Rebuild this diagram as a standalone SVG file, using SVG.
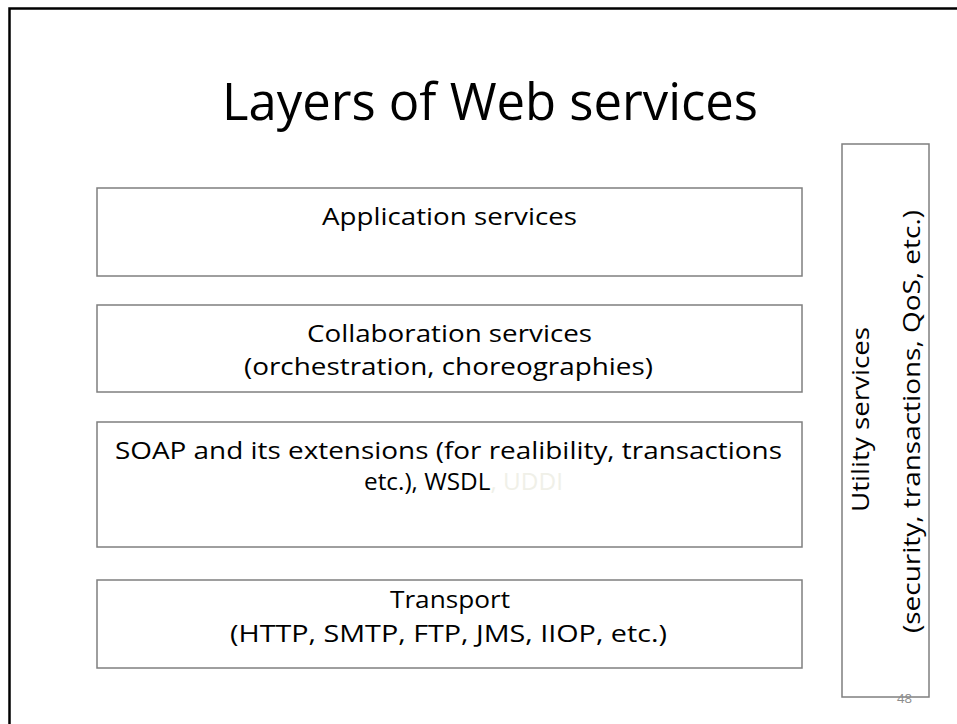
<svg xmlns="http://www.w3.org/2000/svg" width="957" height="724" viewBox="0 0 957 724">
<style>
.box{fill:#ffffff;stroke:#7f7f7f;stroke-width:1.5}
.t{font-family:"Open Sans","Liberation Sans",sans-serif;font-size:23.5px;fill:#000000}
.title{font-family:"Open Sans","Liberation Sans",sans-serif;font-size:51px;fill:#000000}
</style>
<rect x="0" y="0" width="957" height="724" fill="#ffffff"/>
<g id="frame">
<path d="M9.5,724 V8.5 H957" fill="none" stroke="#000000" stroke-width="2.5"/>
</g>
<g id="title">
<text class="title" x="222" y="120" textLength="536" lengthAdjust="spacingAndGlyphs">Layers of Web services</text>
</g>
<g id="connectors"></g>
<g id="application">
<rect class="box" x="97" y="188" width="705" height="88"/>
<text class="t" x="322" y="225" textLength="255" lengthAdjust="spacingAndGlyphs">Application services</text>
</g>
<g id="collaboration">
<rect class="box" x="97" y="305" width="705" height="87"/>
<text class="t" x="307" y="342" textLength="285" lengthAdjust="spacingAndGlyphs">Collaboration services</text>
<text class="t" x="244" y="375" textLength="409" lengthAdjust="spacingAndGlyphs">(orchestration, choreographies)</text>
</g>
<g id="soap">
<rect class="box" x="97" y="422" width="705" height="125"/>
<text class="t" x="115" y="459" textLength="667" lengthAdjust="spacingAndGlyphs">SOAP and its extensions (for realibility, transactions</text>
<text class="t" x="364" y="490" textLength="199" lengthAdjust="spacingAndGlyphs">etc.), WSDL<tspan style="fill:#f0f0e8">, UDDI</tspan></text>
</g>
<g id="transport">
<rect class="box" x="97" y="580" width="705" height="88"/>
<text class="t" x="390" y="608" textLength="120" lengthAdjust="spacingAndGlyphs">Transport</text>
<text class="t" x="230" y="642" textLength="437" lengthAdjust="spacingAndGlyphs">(HTTP, SMTP, FTP, JMS, IIOP, etc.)</text>
</g>
<g id="utility">
<rect class="box" x="842" y="144" width="87" height="553"/>
<text class="t" transform="translate(869,512) rotate(-90)" x="0" y="0" textLength="185" lengthAdjust="spacingAndGlyphs">Utility services</text>
<text class="t" transform="translate(920,633) rotate(-90)" x="0" y="0" textLength="423" lengthAdjust="spacingAndGlyphs">(security, transactions, QoS, etc.)</text>
</g>
<g id="page">
<text x="897" y="703" style="font-family:'Open Sans','Liberation Sans',sans-serif;font-size:13px;fill:#8c8c8c" textLength="15" lengthAdjust="spacingAndGlyphs">48</text>
</g>
</svg>
